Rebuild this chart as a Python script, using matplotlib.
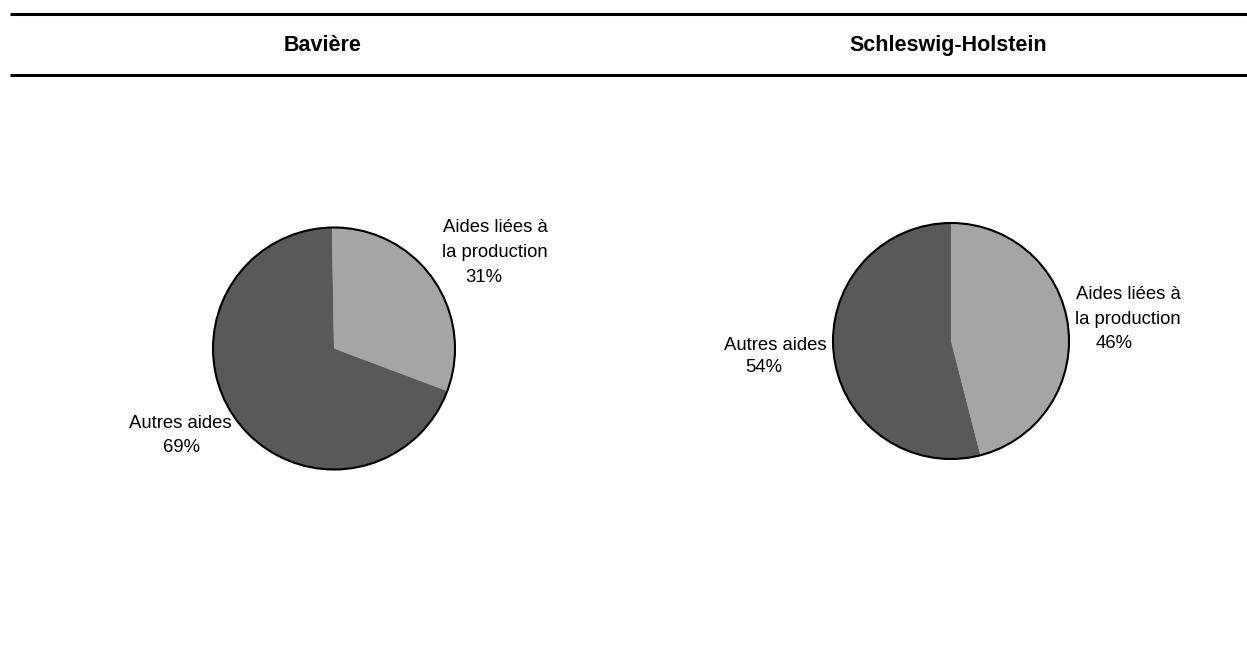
import matplotlib
matplotlib.use("Agg")
import matplotlib.pyplot as plt
from matplotlib.patches import Circle

# === data ===
regions = ["Bavière", "Schleswig-Holstein"]
categories = ["Aides liées à\nla production", "Autres aides"]
shares_baviere = [31, 69]
shares_schleswig = [46, 54]
colors = ["#A5A5A5", "#595959"]

W, H = 1247, 646
plt.rcParams["font.family"] = ["Liberation Sans", "DejaVu Sans"]

fig = plt.figure(figsize=(W / 100, H / 100), dpi=100)
ax = fig.add_axes([0, 0, 1, 1])


def Y(py):
    # pixel row -> data y
    return H - py


# pie layout (pixel centers / radius), title x, label positions
layout = [
    {"center": (334, 348.5), "r": 121, "start": 91, "title_x": 323,
     "name_pos": [(495, 240), (180, 423)], "pct_pos": [(484, 277), (181, 448)]},
    {"center": (951, 341), "r": 118, "start": 90, "title_x": 948,
     "name_pos": [(1128, 307), (775, 345)], "pct_pos": [(1114, 344), (764, 368)]},
]

for shares, lay, region in zip([shares_baviere, shares_schleswig], layout, regions):
    cx, cy = lay["center"]
    ax.pie(shares, colors=colors, startangle=lay["start"], counterclock=False,
           center=(cx, Y(cy)), radius=lay["r"], frame=True,
           wedgeprops=dict(linewidth=0))
    ax.add_patch(Circle((cx, Y(cy)), lay["r"], fill=False, edgecolor="black",
                        linewidth=1.5, zorder=5))
    for name, val, (nx, ny), (px, py) in zip(categories, shares,
                                             lay["name_pos"], lay["pct_pos"]):
        ax.text(nx, Y(ny), name, ha="center", va="center", fontsize=13.3,
                linespacing=1.58, color="black")
        ax.text(px, Y(py), f"{val}%", ha="center", va="center", fontsize=13.3,
                color="black")
    ax.text(lay["title_x"], Y(51), region, ha="center", va="baseline",
            fontsize=15.5, fontweight="bold")

# header rules
for row in (14, 75):
    ax.plot([10, W], [Y(row), Y(row)], color="black", linewidth=2.2,
            solid_capstyle="butt")

ax.set_xlim(0, W)
ax.set_ylim(0, H)
ax.set_aspect("auto")
ax.axis("off")

fig.savefig("out.png", dpi=100, facecolor="white")
